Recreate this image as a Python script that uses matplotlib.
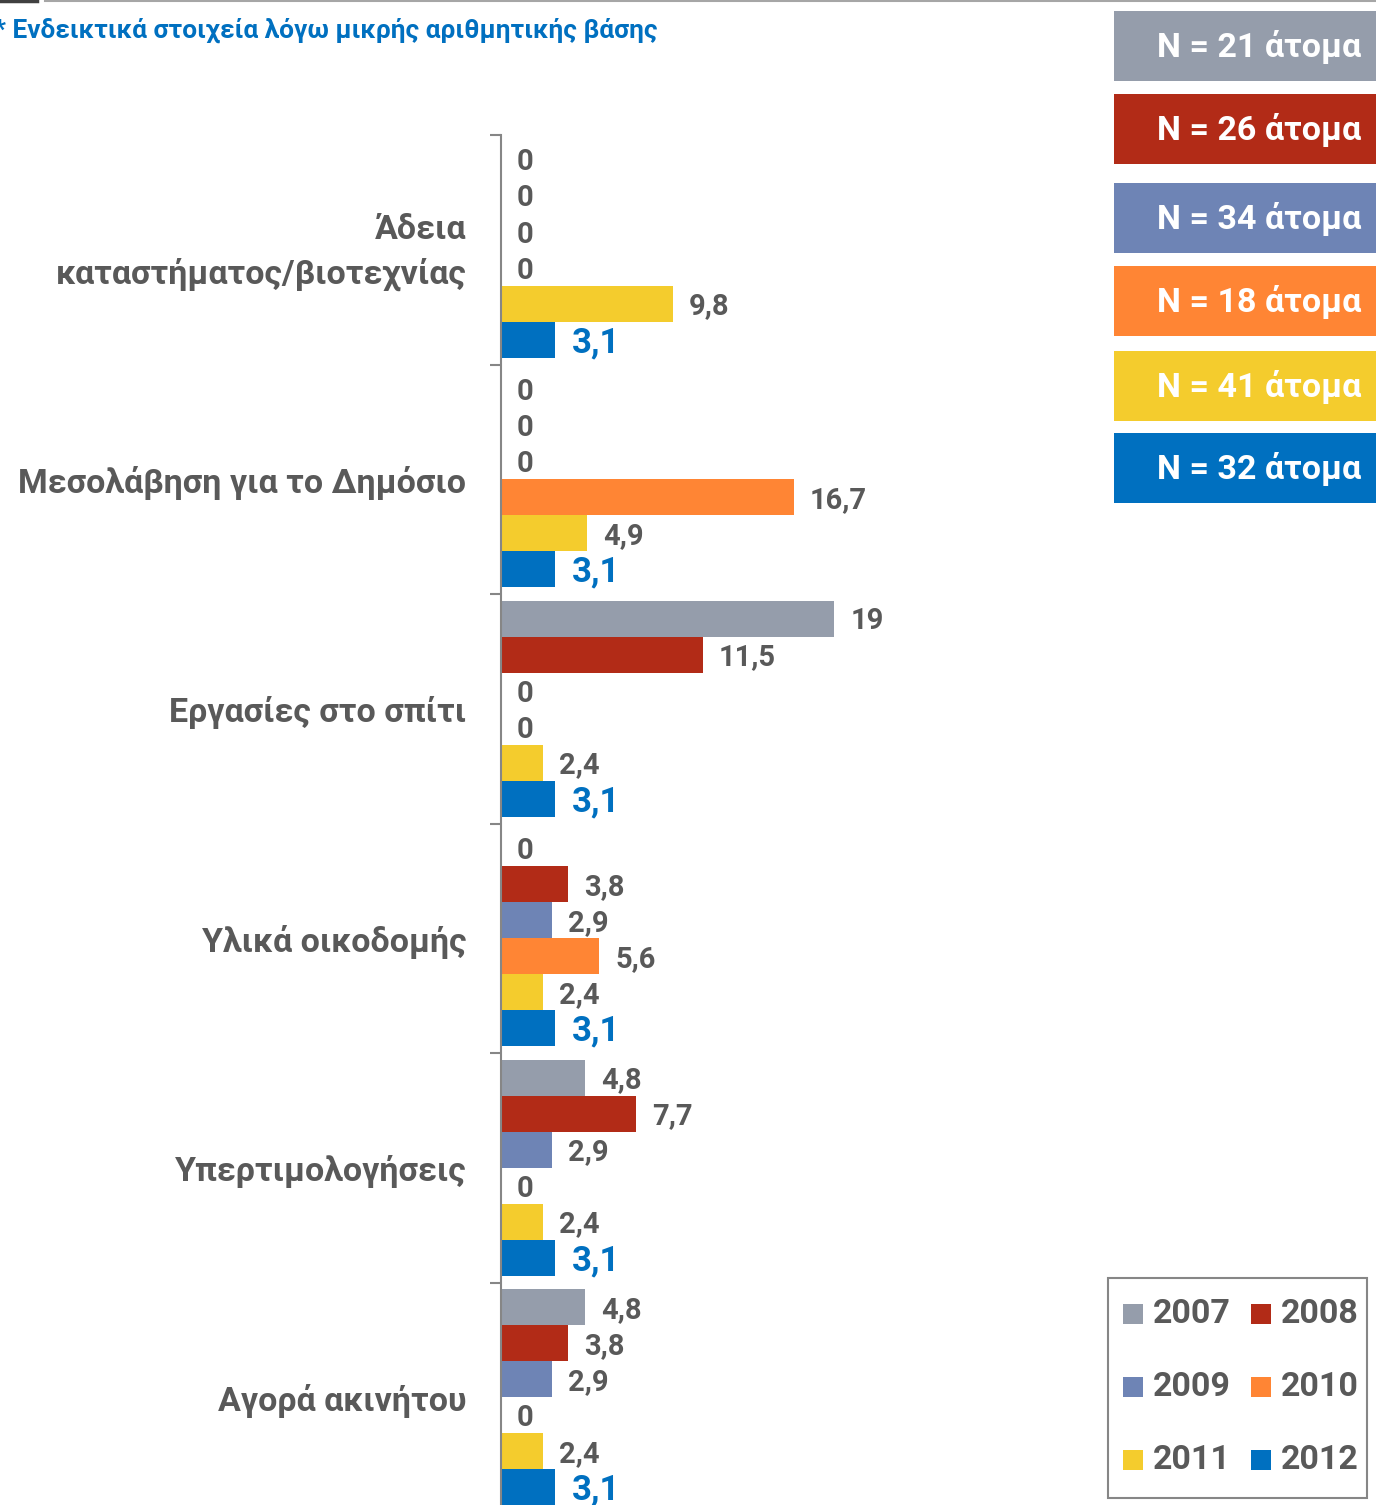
import numpy as np
import matplotlib
matplotlib.use("Agg")
import matplotlib.pyplot as plt
from matplotlib.lines import Line2D
from matplotlib.patches import Rectangle

plt.rcParams['font.family'] = ['Roboto', 'DejaVu Sans']

# Δεδομένα
katigories = ["Άδεια\nκαταστήματος/βιοτεχνίας", "Μεσολάβηση για το Δημόσιο",
              "Εργασίες στο σπίτι", "Υλικά οικοδομής", "Υπερτιμολογήσεις",
              "Αγορά ακινήτου"]
eti = ["2007", "2008", "2009", "2010", "2011", "2012"]
v2007 = [0, 0, 19, 0, 4.8, 4.8]
v2008 = [0, 0, 11.5, 3.8, 7.7, 3.8]
v2009 = [0, 0, 0, 2.9, 2.9, 2.9]
v2010 = [0, 16.7, 0, 5.6, 0, 0]
v2011 = [9.8, 4.9, 2.4, 2.4, 2.4, 2.4]
v2012 = [3.1, 3.1, 3.1, 3.1, 3.1, 3.1]
N_atoma = [21, 26, 34, 18, 41, 32]

xromata = ["#959DAB", "#B22B17", "#6E84B5", "#FF8534", "#F4CC2D", "#0070C0"]
seires = [v2007, v2008, v2009, v2010, v2011, v2012]

W, H = 1376, 1505
fig = plt.figure(figsize=(W / 100, H / 100), dpi=100)

# Άξονες: αριστερά στο x=501, πάνω στο y=135, κάθε ομάδα 229.5 px
ax_left, ax_right = 501, 1100
ax_top = 135
grp = 229.5
ax_bottom = ax_top + 6 * grp
ax = fig.add_axes([ax_left / W, (H - ax_bottom) / H, (ax_right - ax_left) / W, 6 * grp / H])
px_per_unit = 17.55
ax.set_xlim(0, (ax_right - ax_left) / px_per_unit)
ax.set_ylim(6, 0)

bh = 0.157
kentra = np.arange(6) + 0.5
for j, (vals, c) in enumerate(zip(seires, xromata)):
    y = kentra + (j - 2.5) * bh
    ax.barh(y, vals, height=bh, color=c, edgecolor='none')
    for yi, v in zip(y, vals):
        txt = f"{v:g}".replace('.', ',')
        if j == 5:
            ax.annotate(txt, (v, yi), xytext=(11.5, -2), textcoords='offset points',
                        va='center', ha='left', fontsize=25, fontweight='bold', color='#0070C0')
        else:
            ax.annotate(txt, (v, yi), xytext=(11.5, -2), textcoords='offset points',
                        va='center', ha='left', fontsize=21, fontweight='bold', color='#595959')

# μόνο αριστερός άξονας
for s in ['top', 'right', 'bottom']:
    ax.spines[s].set_visible(False)
ax.spines['left'].set_color('#868686')
ax.spines['left'].set_linewidth(1.5)
ax.set_xticks([])
ax.set_yticks([])
ax.set_yticks(np.arange(7), minor=True)
ax.tick_params(axis='y', which='minor', length=8, width=1.5, color='#868686', direction='out')

# ετικέτες κατηγοριών (η πρώτη λίγο πιο πάνω)
ypos_off = [5, 0, 0, 0, 0, 0]
for kat, yc, dy in zip(katigories, kentra, ypos_off):
    ax.annotate(kat, (0, yc), xytext=(-25, dy), textcoords='offset points',
                ha='right', va='center_baseline', fontsize=24.5, fontweight='bold',
                color='#595959', linespacing=1.45, multialignment='right')

# Τίτλος πάνω αριστερά
fig.text(-0.004, 1 - 30 / H, "* Ενδεικτικά στοιχεία λόγω μικρής αριθμητικής βάσης",
         fontsize=18.9, fontweight='bold', color='#0070C0', va='center', ha='left')

# γραμμή στην κορυφή
fig.add_artist(Line2D([0, 37 / W], [1 - 1 / H, 1 - 1 / H], color='#404040', lw=2.5))
fig.add_artist(Line2D([45 / W, 1], [1 - 1 / H, 1 - 1 / H], color='#A6A6A6', lw=1.5))

# Κουτιά N
kouti_top = [11, 94, 183, 266, 351, 433]
for t, n, c in zip(kouti_top, N_atoma, xromata):
    fig.add_artist(Rectangle((1114 / W, 1 - (t + 70) / H), (W - 1114) / W, 70 / H,
                             facecolor=c, edgecolor='none', transform=fig.transFigure))
    fig.text(1361 / W, 1 - (t + 36) / H, f"N = {n} άτομα", fontsize=24.5, fontweight='bold',
             color='white', ha='right', va='center')

# Υπόμνημα
fig.add_artist(Rectangle((1108 / W, 1 - 1498 / H), (1367 - 1108) / W, (1498 - 1278) / H,
                         facecolor='white', edgecolor='#868686', lw=1.5, transform=fig.transFigure))
grammes = [1314, 1387, 1460]
stiles = [1123, 1251]
for k, (e, c) in enumerate(zip(eti, xromata)):
    r, col = k // 2, k % 2
    yc = grammes[r]
    x0 = stiles[col]
    fig.add_artist(Rectangle((x0 / W, 1 - (yc + 10) / H), 20 / W, 20 / H,
                             facecolor=c, edgecolor='none', transform=fig.transFigure))
    fig.text((x0 + 30) / W, 1 - yc / H, e, fontsize=24.5, fontweight='bold',
             color='#595959', ha='left', va='center')

fig.savefig("out.png", dpi=100)
